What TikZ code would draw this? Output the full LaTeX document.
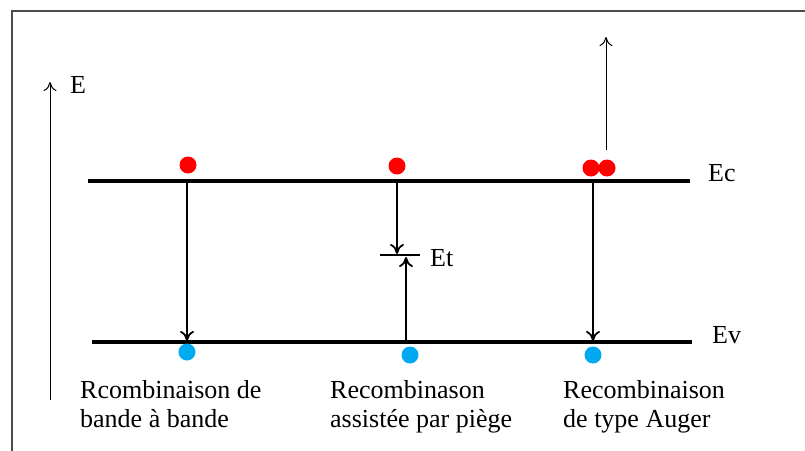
\documentclass[tikz,border=0pt]{standalone}
\usepackage{fontspec}
\setmainfont{Liberation Serif}
\usetikzlibrary{positioning,calc,arrows.meta}

\tikzset{
  level/.style={line width=3.2pt},
  trans/.style={line width=2pt,-{To[length=10pt,width=14pt,line width=1.8pt]}},
  thinarrow/.style={line width=1pt,-{To[length=9pt,width=13pt,line width=1pt]}},
  electron/.style={circle,fill=red,inner sep=0pt,minimum size=17pt},
  hole/.style={circle,fill={rgb,255:red,0;green,170;blue,240},inner sep=0pt,minimum size=17pt},
  lbl/.style={font=\fontsize{26}{30}\selectfont,inner sep=0pt,anchor=base west},
  caption/.style={font=\fontsize{26}{29}\selectfont,align=left,anchor=base west,inner sep=0pt}
}

\begin{document}
\begin{tikzpicture}[x=1pt,y=-1pt]
				\useasboundingbox (0,0) rectangle (805,450);
				\draw[line width=1.8pt,black!70] (12,470) -- (12,11) -- (830,11);
				% energy axis
				\coordinate (axbot) at (50,400);
				\coordinate (axtop) at (50,82);
				\draw[thinarrow] (axbot) -- (axtop);
				\node[lbl] (E) at (70,93) {E};
				% band edges
				\coordinate (ecl) at (88,181);
				\coordinate (ecr) at (690,181);
				\coordinate (evl) at (92,342);
				\coordinate (evr) at (692,342);
				\draw[level] (ecl) -- (ecr);
				\draw[level] (evl) -- (evr);
				\node[lbl] (Ec) at (708,181) {Ec};
				\node[lbl] (Ev) at (712,343) {Ev};
				% carriers
				\node[electron] (e1) at (188,165) {};
				\node[electron] (e2) at (397,166) {};
				\node[electron] (e3) at (591,168) {};
				\node[electron] (e4) at (607,168) {};
				\node[hole] (h1) at (187,352) {};
				\node[hole] (h2) at (410,355) {};
				\node[hole] (h3) at (593,355) {};
				% band to band
				\coordinate (a1) at (187,181);
				\coordinate (b1) at (187,341);
				\draw[trans] (a1) -- (b1);
				% trap assisted
				\coordinate (a2) at (397,181);
				\coordinate (b2) at (397,254);
				\coordinate (tl) at (380,255);
				\coordinate (tr) at (420,255);
				\coordinate (c2) at (406,342);
				\coordinate (d2) at (406,257);
				\draw[line width=1.2pt] (tl) -- (tr);
				\draw[trans] (a2) -- (b2);
				\draw[trans] (c2) -- (d2);
				\node[lbl] (Et) at (430,266) {Et};
				% Auger
				\coordinate (a3) at (593,181);
				\coordinate (b3) at (593,341);
				\draw[trans] (a3) -- (b3);
				\coordinate (u1) at (606,150);
				\coordinate (u2) at (606,37);
				\draw[thinarrow] (u1) -- (u2);
				% captions
				\node[caption] (t1) at (80,427) {Rcombinaison de\\bande à bande};
				\node[caption] (t2) at (330,427) {Recombinason\\assistée par piège};
				\node[caption] (t3) at (563,427) {Recombinaison\\de type Auger};
\end{tikzpicture}
\end{document}
